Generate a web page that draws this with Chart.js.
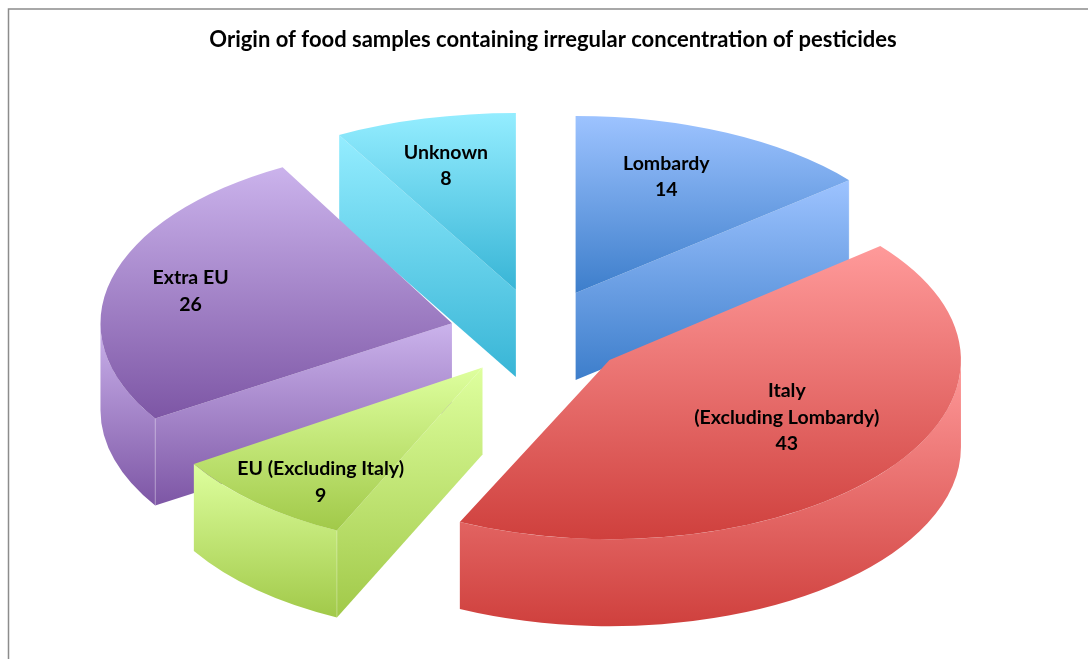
<!DOCTYPE html>
<html>
<head>
<meta charset="utf-8">
<style>html,body{margin:0;padding:0;background:#fff}#w{width:1088px;height:659px;position:relative}</style>
<script src="https://cdn.jsdelivr.net/npm/chart.js@4/dist/chart.umd.min.js"></script>
</head>
<body>
<div id="w"><canvas id="c" width="1088" height="659"></canvas></div>
<script>
const categories = ['Lombardy', ['Italy', '(Excluding Lombardy)'], 'EU (Excluding Italy)', 'Extra EU', 'Unknown'];
const values = [14, 43, 9, 26, 8];
const lightColors = ['#9DC3FF', '#FF9A9A', '#DEFF9E', '#CBB3EC', '#94EDFF'];
const darkColors = ['#3D7ECB', '#CF403D', '#A1C949', '#7D56A5', '#38B5D6'];
const paintOrder = [0, 4, 3, 2, 1];
const labelNudge = [[0, -17], [9, -13], [-13, 30], [-49, -5], [-14, -18]];
// Perspective correction of the original 3-D projection, per slice
const perspX = [1, 0.99, 0.963, 0.99, 1.034];
const perspY = [0.978, 0.989, 0.995, 0.983, 0.978];
const apexNudge = [[0, 1], [0, -4], [8, -3], [6, 0], [3, 1]];

const CX = 536, CY = 335, TILT = 0.51, DEPTH = 87, RADIUS = 355, EXPLODE = 93;
const LABEL_FONT = 'bold 19.5px Lato, "Liberation Sans", sans-serif';

function grad(ctx, y0, y1, i) {
  const g = ctx.createLinearGradient(0, y0, 0, y1);
  g.addColorStop(0, lightColors[i]);
  g.addColorStop(1, darkColors[i]);
  return g;
}

const pie3d = {
  id: 'pie3d',
  beforeDraw(chart) {
    const ctx = chart.ctx;
    ctx.save();
    ctx.strokeStyle = '#8C8C8C';
    ctx.lineWidth = 1.5;
    ctx.beginPath();
    ctx.moveTo(8.5, 659);
    ctx.lineTo(8.5, 9);
    ctx.lineTo(1088, 9);
    ctx.stroke();
    ctx.restore();
  },
  beforeDatasetDraw(chart) {
    const ctx = chart.ctx;
    const arcs = chart.getDatasetMeta(0).data;
    paintOrder.forEach(i => {
      const arc = arcs[i];
      const R = arc.outerRadius;
      const rx = R * perspX[i], ry = R * TILT * perspY[i];
      const a0 = arc.startAngle, a1 = arc.endAngle, mid = (a0 + a1) / 2;
      const ax = CX + Math.cos(mid) * EXPLODE + apexNudge[i][0];
      const ay = CY + Math.sin(mid) * EXPLODE * TILT + apexNudge[i][1];
      const pt = a => [ax + Math.cos(a) * rx, ay + Math.sin(a) * ry];
      const s = pt(a0), e = pt(a1);
      const quad = (p, q) => {
        ctx.fillStyle = grad(ctx, Math.min(p[1], q[1]), Math.max(p[1], q[1]) + DEPTH, i);
        ctx.beginPath();
        ctx.moveTo(p[0], p[1]);
        ctx.lineTo(q[0], q[1]);
        ctx.lineTo(q[0], q[1] + DEPTH);
        ctx.lineTo(p[0], p[1] + DEPTH);
        ctx.closePath();
        ctx.fill();
      };
      // Front-facing cut faces only
      if (s[0] < ax - 0.5) quad([ax, ay], s);
      if (e[0] > ax + 0.5) quad(e, [ax, ay]);
      // Outer rim on the visible (front) half
      const lo = Math.max(a0, 0), hi = Math.min(a1, Math.PI);
      if (hi > lo) {
        const ys = [pt(lo)[1], pt(hi)[1]];
        if (lo < Math.PI / 2 && hi > Math.PI / 2) ys.push(ay + ry);
        ctx.fillStyle = grad(ctx, Math.min(...ys), Math.max(...ys) + DEPTH, i);
        ctx.beginPath();
        ctx.ellipse(ax, ay, rx, ry, 0, lo, hi);
        ctx.ellipse(ax, ay + DEPTH, rx, ry, 0, hi, lo, true);
        ctx.closePath();
        ctx.fill();
      }
      // Faint highlight on the vertical corners between faces
      ctx.strokeStyle = 'rgba(255,255,255,0.28)';
      ctx.lineWidth = 1;
      [s, e].forEach(p => {
        const a = p === s ? a0 : a1;
        if (Math.sin(a) > -0.9) {
          ctx.beginPath();
          ctx.moveTo(p[0], p[1]);
          ctx.lineTo(p[0], p[1] + DEPTH);
          if ((p === s && s[0] < ax - 0.5) || (p === e && e[0] > ax + 0.5)) ctx.stroke();
        }
      });
      // Top face: the library's own arc element, under a tilt transform
      const ys = [ay, s[1], e[1]];
      if (a0 < Math.PI / 2 && a1 > Math.PI / 2) ys.push(ay + ry);
      if (a0 < -Math.PI / 2 + 1e-6 || a1 > 3 * Math.PI / 2 - 1e-6) ys.push(ay - ry);
      const top = Math.min(...ys), bot = Math.max(...ys);
      const k = ry / R;
      ctx.save();
      ctx.translate(ax, ay);
      ctx.scale(perspX[i], k);
      ctx.translate(-arc.x, -arc.y);
      arc.options.backgroundColor = grad(ctx, arc.y + (top - ay) / k, arc.y + (bot - ay) / k, i);
      arc.draw(ctx);
      ctx.restore();
    });
    // Data labels
    ctx.save();
    ctx.font = LABEL_FONT;
    ctx.fillStyle = '#000';
    ctx.textAlign = 'center';
    ctx.textBaseline = 'middle';
    arcs.forEach((arc, i) => {
      const mid = (arc.startAngle + arc.endAngle) / 2;
      const r = EXPLODE + arc.outerRadius * 0.6;
      const x = CX + Math.cos(mid) * r + labelNudge[i][0];
      const y = CY + Math.sin(mid) * r * TILT + labelNudge[i][1];
      const lines = [].concat(categories[i], String(values[i]));
      const lh = 26.5;
      lines.forEach((t, n) => ctx.fillText(t, x, y + (n - (lines.length - 1) / 2) * lh));
    });
    ctx.restore();
    return false;
  }
};

new Chart(document.getElementById('c'), {
  type: 'pie',
  data: {
    labels: categories,
    datasets: [{
      data: values,
      radius: RADIUS,
      backgroundColor: lightColors,
      borderWidth: 0
    }]
  },
  options: {
    responsive: false,
    animation: false,
    layout: { padding: { left: 18 } },
    plugins: {
      legend: { display: false },
      tooltip: { enabled: false },
      title: {
        display: true,
        text: 'Origin of food samples containing irregular concentration of pesticides',
        color: '#000',
        font: { family: 'Lato, "Liberation Sans", sans-serif', size: 22, weight: 'bold' },
        padding: { top: 27, bottom: 0 }
      }
    }
  },
  plugins: [pie3d]
});
</script>
</body>
</html>
